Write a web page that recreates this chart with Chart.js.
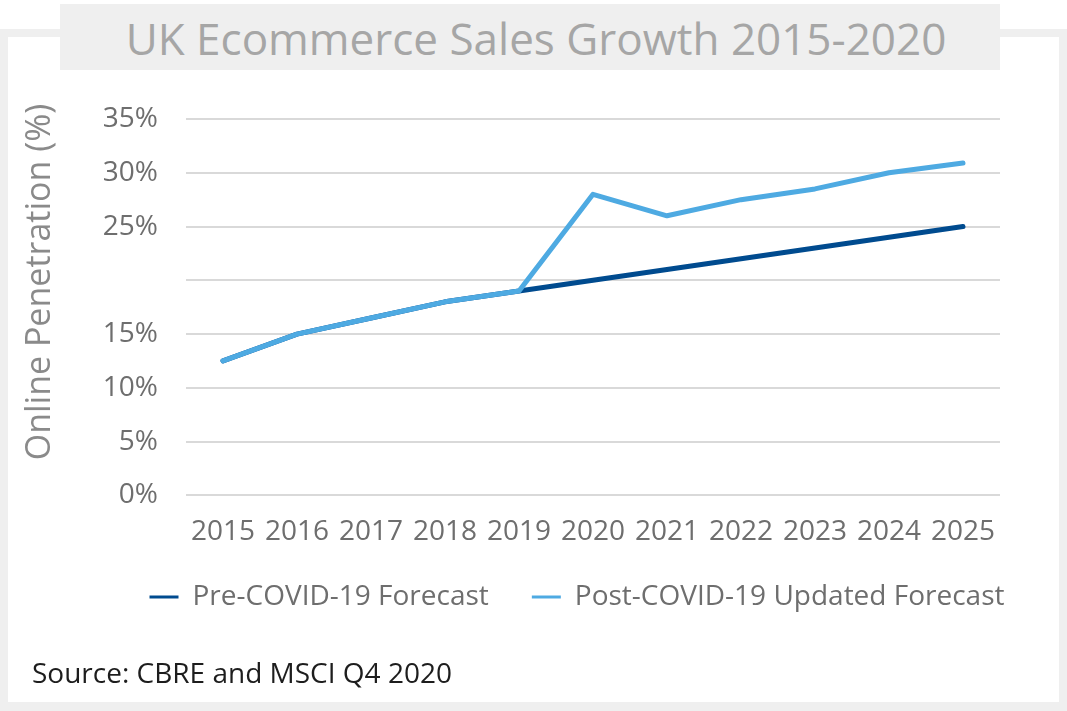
<!DOCTYPE html>
<html>
<head>
<meta charset="utf-8">
<script src="https://cdn.jsdelivr.net/npm/chart.js@4/dist/chart.umd.min.js"></script>
<style>
  html, body { margin: 0; padding: 0; background: #ffffff; }
  #wrap { position: relative; width: 1067px; height: 711px; overflow: hidden; background: #ffffff; font-family: 'Open Sans', sans-serif; }
  #frame { position: absolute; left: 0; top: 29px; width: 1067px; height: 682px; box-sizing: border-box; border: 8px solid #efefef; border-bottom-width: 9px; }
  #title { position: absolute; left: 60px; top: 4px; width: 940px; height: 66px; background: #efefef; color: #a6a6a6; font-size: 44px; line-height: 68px; text-align: center; text-indent: 12px; white-space: nowrap; }
  #source { position: absolute; left: 32px; top: 653px; font-size: 28px; line-height: 38px; color: #1d1d1d; white-space: nowrap; }
  canvas { position: absolute; left: 0; top: 0; }
</style>
</head>
<body>
<div id="wrap">
  <div id="frame"></div>
  <div id="title">UK Ecommerce Sales Growth 2015-2020</div>
  <canvas id="c" width="1067" height="711"></canvas>
  <div id="source">Source: CBRE and MSCI Q4 2020</div>
</div>
<script>
const categories = ['2015','2016','2017','2018','2019','2020','2021','2022','2023','2024','2025'];
const preCovidForecast = [12.5, 15.0, 16.5, 18.0, 19.0, 20.0, 21.0, 22.0, 23.0, 24.0, 25.0];
const postCovidForecast = [12.5, 15.0, 16.5, 18.0, 19.0, 28.0, 26.0, 27.5, 28.5, 30.0, 30.9];
const seriesNames = ['Pre-COVID-19 Forecast', 'Post-COVID-19 Updated Forecast'];
const yAxisTitle = 'Online Penetration (%)';
const hiddenTickValues = [20];

const FONT = "'Open Sans', sans-serif";
const TICK_COLOR = '#6e6e6e';

const placement = {
  id: 'placement',
  afterLayout(chart) {
    const lg = chart.legend;
    if (lg) {
      const dx = 577 - (lg.left + lg.right) / 2;
      lg.left += dx; lg.right += dx;
      const pad = lg.options.labels.padding;
      const itemH = lg._itemHeight || lg.options.labels.font.size;
      const newTop = 597 - pad - itemH / 2;
      const h = lg.bottom - lg.top;
      lg.top = newTop; lg.bottom = newTop + h;
    }
    // centre the y-axis title where the original has it
    const y = chart.scales.y;
    if (y) {
      const wantCenter = 282;
      y.top = 2 * wantCenter - y.bottom;
    }
  }
};

new Chart(document.getElementById('c'), {
  type: 'line',
  data: {
    labels: categories,
    datasets: [
      { label: seriesNames[0], data: preCovidForecast, order: 1, borderColor: '#004b8f', backgroundColor: '#004b8f', borderWidth: 5, pointRadius: 0, tension: 0, borderCapStyle: 'round', borderJoinStyle: 'round' },
      { label: seriesNames[1], data: postCovidForecast, order: 0, borderColor: '#4eaae2', backgroundColor: '#4eaae2', borderWidth: 5, pointRadius: 0, tension: 0, borderCapStyle: 'round', borderJoinStyle: 'round' }
    ]
  },
  options: {
    responsive: false,
    animation: false,
    layout: { padding: { left: 8, right: 67, top: 119, bottom: 61 } },
    plugins: {
      title: { display: false },
      tooltip: { enabled: false },
      legend: {
        position: 'bottom',
        labels: {
          boxWidth: 29, boxHeight: 3, padding: 43,
          color: TICK_COLOR,
          font: { family: FONT, size: 28 },
          sort: (a, b) => a.datasetIndex - b.datasetIndex,
          generateLabels(chart) {
            const items = Chart.defaults.plugins.legend.labels.generateLabels(chart);
            items.forEach(it => { it.lineWidth = 0; it.strokeStyle = 'rgba(0,0,0,0)'; });
            return items;
          }
        }
      }
    },
    scales: {
      x: {
        offset: true,
        grid: { display: false, drawTicks: false, offset: true },
        border: { display: false },
        ticks: { color: TICK_COLOR, font: { family: FONT, size: 28 }, padding: 20, maxRotation: 0, autoSkip: false }
      },
      y: {
        min: 0, max: 35,
        afterFit(scale) { scale.width = 178; },
        grid: { color: '#d9d9d9', lineWidth: 2, drawTicks: false },
        border: { display: false },
        ticks: {
          stepSize: 5, padding: 28, color: TICK_COLOR,
          font: { family: FONT, size: 28 },
          callback: v => hiddenTickValues.includes(v) ? '' : v + '%'
        },
        title: {
          display: true, text: yAxisTitle, color: '#8a8a8a',
          font: { family: FONT, size: 34 },
          padding: { top: 12, bottom: 0 }
        }
      }
    }
  },
  plugins: [placement]
});
</script>
</body>
</html>
